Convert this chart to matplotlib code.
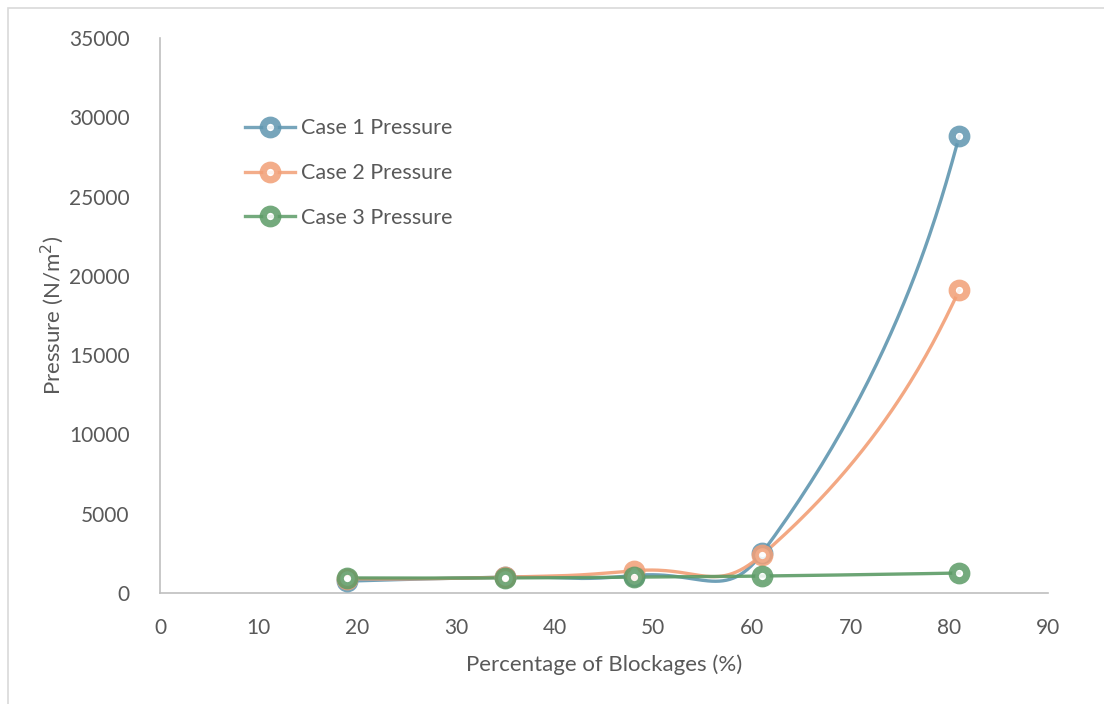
import numpy as np
import matplotlib.pyplot as plt
from matplotlib.patches import Rectangle

# Porcentaje de bloqueo y presión medida en cada caso
blockage = [19, 35, 48, 61, 81]
case1 = [750, 1000, 1100, 2500, 28800]
case2 = [900, 1000, 1400, 2400, 19100]
case3 = [950, 950, 1000, 1070, 1260]

labels = ["Case 1 Pressure", "Case 2 Pressure", "Case 3 Pressure"]
colors = ["#5f96b0", "#f29f76", "#5c9b66"]


def smooth(xs, ys, sx=888 / 90, sy=555 / 35000, tension=0.52, n=60):
    # curva suavizada: Bezier con puntos de control ponderados por la longitud de cada tramo
    p = np.column_stack([np.array(xs) * sx, np.array(ys) * sy]).astype(float)
    m = len(p)
    cin = p.copy()
    cout = p.copy()
    for i in range(1, m - 1):
        d0 = np.linalg.norm(p[i] - p[i - 1])
        d1 = np.linalg.norm(p[i + 1] - p[i])
        tang = p[i + 1] - p[i - 1]
        cin[i] = p[i] - tang * tension * d0 / (d0 + d1)
        cout[i] = p[i] + tang * tension * d1 / (d0 + d1)
    # extremos
    cout[0] = p[0] + (cin[1] - p[0]) * 0.33
    cin[-1] = p[-1] + (cout[-2] - p[-1]) * 0.33
    t = np.linspace(0, 1, n)[:, None]
    out = []
    for i in range(m - 1):
        p0, c1, c2, p3 = p[i], cout[i], cin[i + 1], p[i + 1]
        seg = ((1 - t) ** 3) * p0 + 3 * ((1 - t) ** 2) * t * c1 + 3 * (1 - t) * t ** 2 * c2 + t ** 3 * p3
        out.append(seg)
    s = np.vstack(out)
    return s[:, 0] / sx, s[:, 1] / sy


plt.rcParams['font.family'] = ['Lato', 'DejaVu Sans']
fig = plt.figure(figsize=(11.04, 7.04), dpi=100)
ax = fig.add_axes([160 / 1104, 1 - 593 / 704, (1048 - 160) / 1104, (593 - 38) / 704])

# marco del gráfico
fig.patches.append(Rectangle((8 / 1104, -0.1), 1.2, 1 - 8 / 704 + 0.1, transform=fig.transFigure,
                             fill=False, edgecolor="#d9d9d9", linewidth=1.2))

for ys, lab, c in zip([case1, case2, case3], labels, colors):
    sx, sy = smooth(blockage, ys)
    ax.plot(sx, sy, color=c, linewidth=2.4, alpha=0.9, zorder=2)
    ax.plot(blockage, ys, linestyle='none', marker='o', markersize=10.5, markeredgewidth=5.2,
            markerfacecolor='white', markeredgecolor=c, alpha=0.85, zorder=3)
    # entrada de leyenda
    ax.plot([], [], color=c, linewidth=2.4, marker='o', markersize=10.5, markeredgewidth=5.2,
            markerfacecolor='white', markeredgecolor=c, alpha=0.85, label=lab)

ax.set_xlim(0, 90)
ax.set_ylim(0, 35000)
ax.set_xticks(range(0, 91, 10))
ax.set_yticks(range(0, 35001, 5000))
ax.tick_params(length=0, labelsize=15, colors="#595959")
ax.tick_params(axis='x', pad=18)
ax.tick_params(axis='y', pad=22)
for s in ['top', 'right']:
    ax.spines[s].set_visible(False)
for s in ['left', 'bottom']:
    ax.spines[s].set_color("#bfbfbf")
    ax.spines[s].set_linewidth(1.2)

ax.set_xlabel("Percentage of Blockages (%)", fontsize=16, color="#595959", labelpad=12)
ax.set_ylabel("Pressure (N/m$^2$)", fontsize=16, color="#595959", labelpad=2)

ax.legend(loc='upper left', bbox_to_anchor=(0.074, 0.89), frameon=False, fontsize=15.5,
          labelcolor="#595959", handlelength=2.3, labelspacing=1.15, handletextpad=0.3)

fig.savefig("out.png", dpi=100)
